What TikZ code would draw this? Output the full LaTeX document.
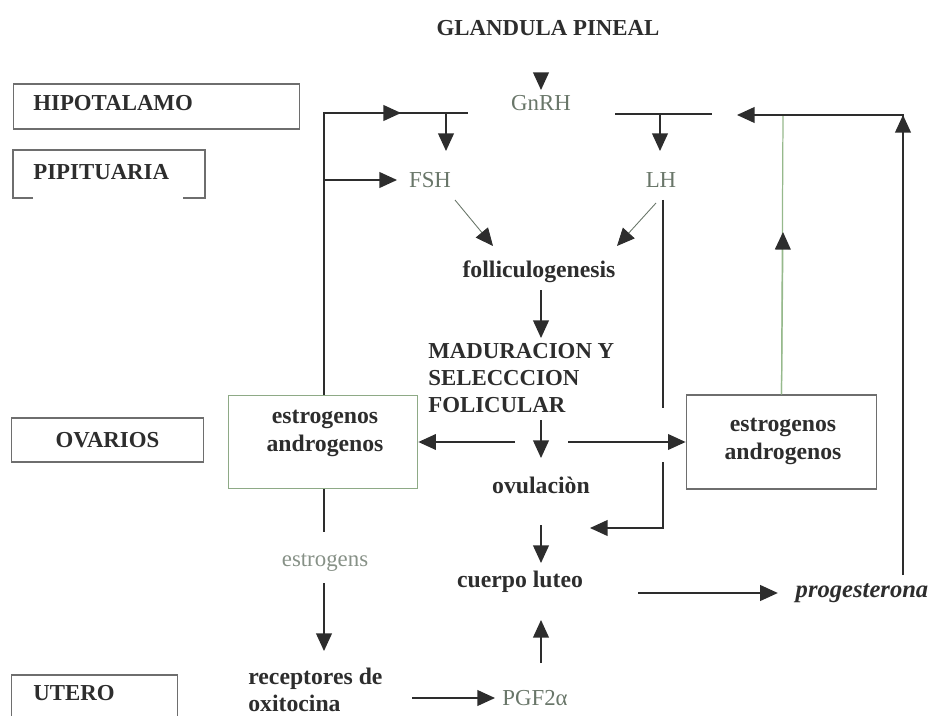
\documentclass[tikz,border=0pt]{standalone}
\usepackage{fontspec}
\setmainfont{Liberation Serif}
\usetikzlibrary{arrows.meta, positioning}

\definecolor{inkgray}{RGB}{45,45,45}
\definecolor{hormgray}{RGB}{105,118,105}
\definecolor{boxgray}{RGB}{110,110,110}
\definecolor{palegreen}{RGB}{150,185,140}

\begin{document}
\begin{tikzpicture}[x=0.02cm, y=-0.02cm,
    organ/.style={draw=boxgray, line width=0.9pt, inner sep=0pt},
    organtext/.style={font=\bfseries\fontsize{13}{15}\selectfont, text=inkgray, inner sep=0pt},
    stage/.style={font=\bfseries\fontsize{13.5}{15.5}\selectfont, text=inkgray, inner sep=0pt},
    horm/.style={font=\fontsize{13}{15}\selectfont, text=hormgray, inner sep=0pt},
    link/.style={draw=inkgray, line width=0.7pt},
    arr/.style={link, -{Triangle[length=10pt,width=9pt,color=inkgray]}},
  ]
  \useasboundingbox (0,0) rectangle (933,716);

  % organ labels on the left
  \node[organ, minimum width=162.7pt, minimum height=25.5pt] (hipobox) at (156.5,106.5) {};
  \node[organtext, anchor=west] (hipo) at (33,103) {HIPOTALAMO};
  \draw[boxgray, line width=0.9pt] (33,198) -- (13,198) -- (13,150) -- (205,150) -- (205,198) -- (183,198);
  \node[organtext, anchor=west] (pitu) at (33,172) {PIPITUARIA};
  \node[organ, minimum width=109.4pt, minimum height=25pt] (ovabox) at (107.5,440) {};
  \node[organtext] (ova) at (ovabox) {OVARIOS};
  \node[organ, minimum width=94.7pt, minimum height=27pt] (utebox) at (94.5,698.5) {};
  \node[organtext, anchor=west] (ute) at (33,693) {UTERO};

  % hormones and stages
  \node[organtext] (pineal) at (548,28) {GLANDULA PINEAL};
  \node[horm] (gnrh) at (541,103) {GnRH};
  \node[horm] (fsh) at (430,180) {FSH};
  \node[horm] (lh) at (661,180) {LH};
  \node[stage] (follic) at (539,272) {folliculogenesis};
  \node[stage, anchor=west, align=left, font=\bfseries\fontsize{13}{15.5}\selectfont] (madur) at (428,378)
    {MADURACION Y\\SELECCCION\\FOLICULAR};
  \node[organ, draw=palegreen!80!boxgray, minimum width=107.7pt, minimum height=52.7pt] (lbox) at (323,442) {};
  \node[stage, align=center] (ltext) at (325,433.5) {estrogenos\\androgenos};
  \node[organ, minimum width=108.3pt, minimum height=53.3pt] (rbox) at (781.5,442) {};
  \node[stage, align=center] (rtext) at (783,441.5) {estrogenos\\androgenos};
  \node[stage] (ovul) at (541,485) {ovulaciòn};
  \node[stage] (cuerpo) at (520,582) {cuerpo luteo};
  \node[stage, font=\bfseries\itshape\fontsize{14}{16}\selectfont] (proges) at (862,593) {progesterona};
  \node[horm, text=hormgray!80] (estrog) at (325,563) {estrogens};
  \node[stage, anchor=west, align=left] (recept) at (248,690) {receptores de\\oxitocina};
  \node[horm] (pgf) at (535,698) {PGF2α};

  % junction points
  \coordinate (pin) at (541,74);
  \coordinate (hl) at (324,113);
  \coordinate (hm) at (446,113);
  \coordinate (hr) at (468,113);
  \coordinate (pl) at (324,180);
  \coordinate (gl) at (615,114);
  \coordinate (gm) at (660,114);
  \coordinate (gr) at (712,114);
  \coordinate (lhtop) at (663,200);
  \coordinate (lhbot) at (663,528);
  \coordinate (rtop) at (783,115);
  \coordinate (ptop) at (903,115);
  \coordinate (pbot) at (903,575);

  % pineal and hypothalamus
  \draw[arr] (pin) -- (541,90);
  \draw[link] (lbox.north -| hl) -- (hl) -- (hr);
  \draw[arr] (hl) -- (401,113);
  \draw[arr] (hm) -- (446,151);
  \draw[arr] (pl) -- (397,180);
  \draw[link] (gl) -- (gr);
  \draw[arr] (gm) -- (660,151);

  % pituitary to ovary
  \draw[arr, draw=hormgray, line width=0.5pt] (455,200) -- (493,246);
  \draw[arr, draw=hormgray, line width=0.5pt] (656,203) -- (617,246);
  \draw[link] (lhtop) -- (663,408);
  \draw[link] (663,462) -- (lhbot) -- (612,528);
  \draw[arr] (612,528) -- (590,528);
  \draw[arr] (541,290) -- (541,338);
  \draw[arr] (541,420) -- (541,458);
  \draw[arr] (515,442) -- (lbox.east);
  \draw[arr] (568,442) -- (rbox.west);
  \draw[arr] (541,525) -- (541,563);

  % feedback loops on the right
  \draw[link, draw=palegreen] (rbox.north) -- (rtop);
  \draw[arr, draw=palegreen] (rbox.north) -- (783,232);
  \draw[link] (pbot) -- (ptop) -- (742,115);
  \draw[arr] (903,160) -- (ptop);
  \draw[arr] (760,115) -- (737,115);
  \draw[arr, shorten >=10pt] (638,593) -- (proges.west);

  % uterus
  \draw[link] (lbox.south -| pl) -- (324,532);
  \draw[arr] (324,583) -- (324,651);
  \draw[arr, shorten >=4pt] (412,698) -- (pgf.west);
  \draw[arr] (541,663) -- (541,620);
\end{tikzpicture}
\end{document}
